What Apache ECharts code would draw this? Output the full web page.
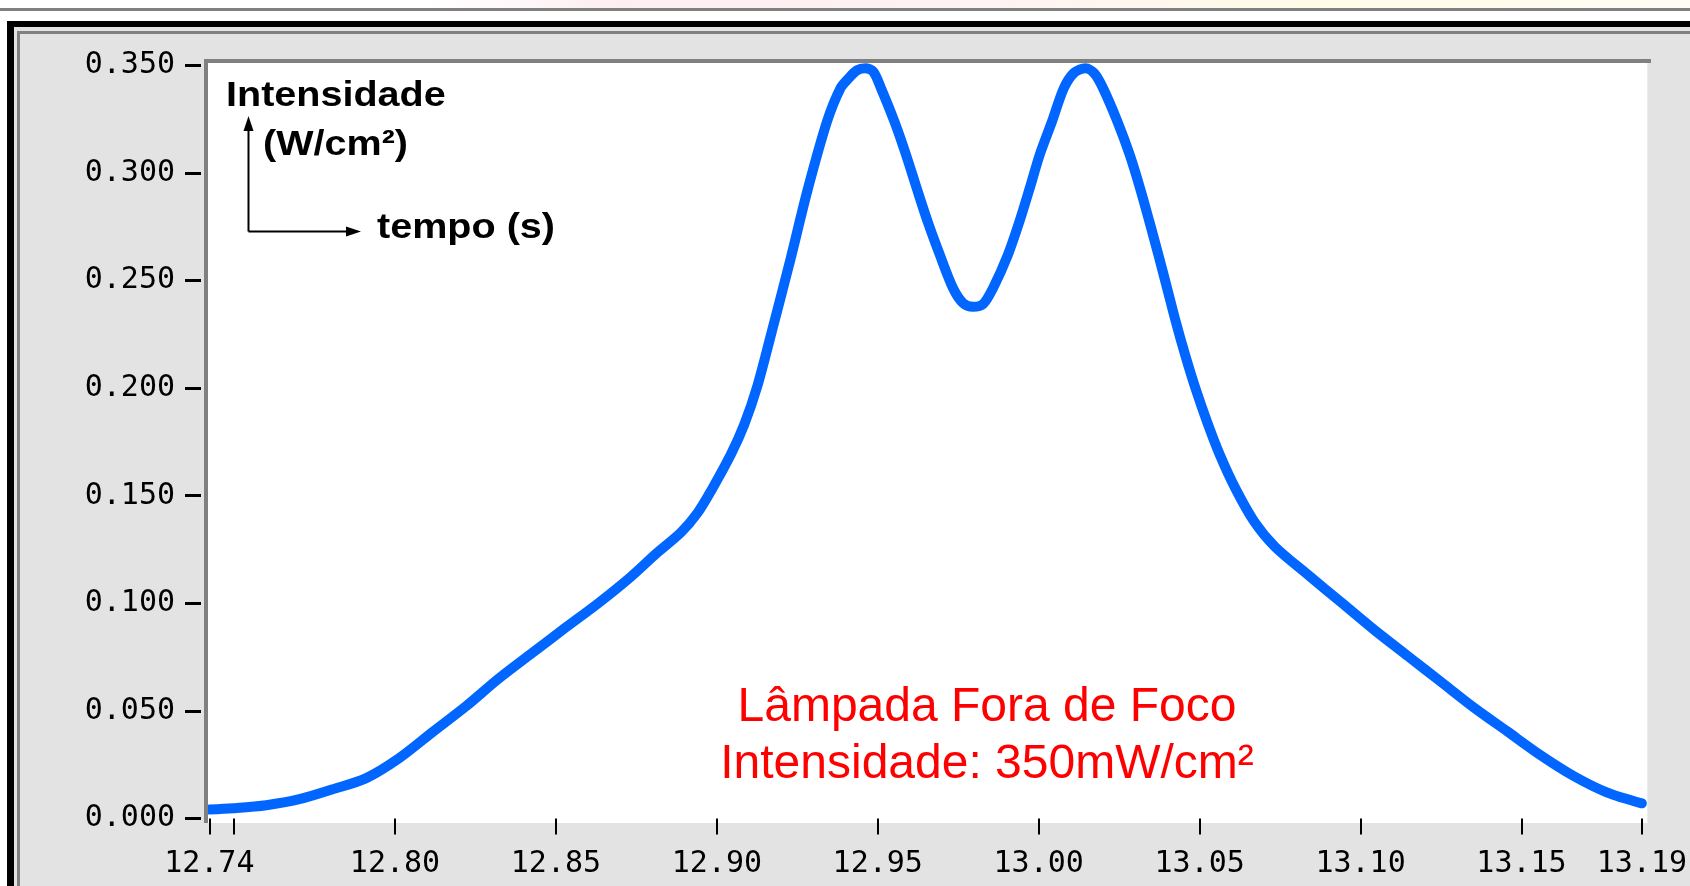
<!DOCTYPE html>
<html>
<head>
<meta charset="utf-8">
<script src="https://cdn.jsdelivr.net/npm/echarts@6/dist/echarts.min.js"></script>
<style>
html,body{margin:0;padding:0;background:#fff;}
#chart{width:1690px;height:886px;}
</style>
</head>
<body>
<div id="chart"></div>
<script>
// ---- data ----
const timeValues = [
  12.7423, 12.7497, 12.7600, 12.7703, 12.7806, 12.7909, 12.8012, 12.8115, 12.8219, 12.8322,
  12.8425, 12.8528, 12.8631, 12.8734, 12.8811, 12.8889, 12.8940, 12.8981, 12.9043, 12.9085,
  12.9126, 12.9172, 12.9229, 12.9281, 12.9342, 12.9384, 12.9410, 12.9435, 12.9461, 12.9486,
  12.9510, 12.9552, 12.9588, 12.9621, 12.9655, 12.9693, 12.9734, 12.9765, 12.9796, 12.9827,
  12.9858, 12.9904, 12.9940, 12.9972, 13.0003, 13.0041, 13.0078, 13.0110, 13.0145, 13.0173,
  13.0200, 13.0245, 13.0283, 13.0315, 13.0344, 13.0372, 13.0399, 13.0426, 13.0455, 13.0487,
  13.0523, 13.0563, 13.0611, 13.0670, 13.0734, 13.0837, 13.0941, 13.1044, 13.1147, 13.1250,
  13.1353, 13.1456, 13.1559, 13.1662, 13.1765, 13.1874
];
const intensityValues = [
  0.0042, 0.0048, 0.0062, 0.0090, 0.0136, 0.0187, 0.0280, 0.0400, 0.0520, 0.0650,
  0.0768, 0.0885, 0.1000, 0.1125, 0.1230, 0.1330, 0.1420, 0.1520, 0.1690, 0.1830,
  0.2010, 0.2270, 0.2600, 0.2915, 0.3237, 0.3393, 0.3440, 0.3476, 0.3486, 0.3470,
  0.3393, 0.3237, 0.3083, 0.2928, 0.2773, 0.2618, 0.2464, 0.2395, 0.2378, 0.2390,
  0.2464, 0.2618, 0.2773, 0.2928, 0.3083, 0.3237, 0.3393, 0.3465, 0.3486, 0.3462,
  0.3393, 0.3237, 0.3083, 0.2928, 0.2773, 0.2618, 0.2464, 0.2308, 0.2154, 0.1999,
  0.1844, 0.1689, 0.1534, 0.1379, 0.1263, 0.1132, 0.1003, 0.0875, 0.0755, 0.0635,
  0.0515, 0.0405, 0.0295, 0.0198, 0.0122, 0.0071
];
const xMin = 12.7419, xMax = 13.1891;
const yMin = -0.00204, yMax = 0.35102;
const xLabelValues = [12.7423, 12.80, 12.85, 12.90, 12.95, 13.00, 13.05, 13.10, 13.15, 13.1874];
const xTickValues  = [12.7423, 12.75, 12.80, 12.85, 12.90, 12.95, 13.00, 13.05, 13.10, 13.15, 13.1874];
const yTickValues  = [0, 0.05, 0.10, 0.15, 0.20, 0.25, 0.30, 0.35];
const annotationTitle = ['Intensidade', '(W/cm²)', 'tempo (s)'];
const noteLines = ['Lâmpada Fora de Foco', 'Intensidade: 350mW/cm²'];

const chart = echarts.init(document.getElementById('chart'), null, {renderer: 'canvas'});
const tickFont = '"DejaVu Sans Mono", monospace';

const option = {
  animation: false,
  backgroundColor: '#e3e3e3',
  grid: {left: 208, right: 36, top: 63, bottom: 63, show: true, backgroundColor: '#ffffff', borderWidth: 0},
  xAxis: {
    type: 'value', min: xMin, max: xMax, offset: 4,
    axisLine: {show: false}, splitLine: {show: false},
    axisTick: {show: true, length: 16, customValues: xTickValues, lineStyle: {color: '#000', width: 2}},
    axisLabel: {customValues: xLabelValues, formatter: v => v.toFixed(2), margin: 22,
      fontFamily: tickFont, fontSize: 30, color: '#000'}
  },
  yAxis: {
    type: 'value', min: yMin, max: yMax, offset: 7,
    axisLine: {show: false}, splitLine: {show: false},
    axisTick: {show: true, length: 16, customValues: yTickValues, lineStyle: {color: '#000', width: 3}},
    axisLabel: {customValues: yTickValues, formatter: v => v.toFixed(3), margin: 26,
      fontFamily: tickFont, fontSize: 30, color: '#000'}
  },
  series: [{
    type: 'line',
    data: timeValues.map((t, i) => [t, intensityValues[i]]),
    showSymbol: false, smooth: 0.3, clip: false,
    lineStyle: {color: '#0066ff', width: 10, cap: 'round', join: 'round'},
    z: 5
  }],
  graphic: [
    // page frame
    {type: 'rect', z: -100, shape: {x: 0, y: 0, width: 1690, height: 21}, style: {fill: '#ffffff'}},
    {type: 'rect', z: -99, shape: {x: 430, y: 0, width: 1260, height: 8},
      style: {fill: {type: 'linear', x: 0, y: 0, x2: 1, y2: 0, colorStops: [
        {offset: 0, color: '#ffffff'}, {offset: 0.15, color: '#fdeef1'}, {offset: 0.45, color: '#fff3f3'},
        {offset: 0.7, color: '#fffbe8'}, {offset: 1, color: '#fffdf4'}]}}},
    {type: 'rect', z: -100, shape: {x: 0, y: 0, width: 7, height: 886}, style: {fill: '#ffffff'}},
    {type: 'rect', z: -98, shape: {x: 0, y: 8, width: 1690, height: 3}, style: {fill: '#808080'}},
    {type: 'rect', z: -98, shape: {x: 7, y: 21, width: 1683, height: 6}, style: {fill: '#000000'}},
    {type: 'rect', z: -98, shape: {x: 7, y: 21, width: 7, height: 865}, style: {fill: '#000000'}},
    {type: 'rect', z: -98, shape: {x: 17, y: 31, width: 1673, height: 3}, style: {fill: '#808080'}},
    {type: 'rect', z: -98, shape: {x: 17, y: 31, width: 3, height: 855}, style: {fill: '#808080'}},
    // plot sunken border
    {type: 'rect', z: 20, shape: {x: 204, y: 59, width: 1447, height: 4}, style: {fill: '#808080'}},
    {type: 'rect', z: 20, shape: {x: 204, y: 59, width: 4, height: 764}, style: {fill: '#808080'}},
    // axes legend arrows
    {type: 'line', z: 30, shape: {x1: 248.5, y1: 231.5, x2: 248.5, y2: 128}, style: {stroke: '#000', lineWidth: 2}},
    {type: 'polygon', z: 30, shape: {points: [[248.5, 116], [243.5, 131], [253.5, 131]]}, style: {fill: '#000'}},
    {type: 'line', z: 30, shape: {x1: 248.5, y1: 231.5, x2: 350, y2: 231.5}, style: {stroke: '#000', lineWidth: 2}},
    {type: 'polygon', z: 30, shape: {points: [[361, 231.5], [346, 226.5], [346, 236.5]]}, style: {fill: '#000'}},
    {type: 'text', z: 30, x: 226, y: 96, scaleX: 1.13,
      style: {text: annotationTitle[0], x: 0, y: 0, fill: '#000', font: 'bold 35px "Liberation Sans", Arial, sans-serif', textAlign: 'left', textVerticalAlign: 'middle'}},
    {type: 'text', z: 30, x: 263, y: 145, scaleX: 1.13,
      style: {text: annotationTitle[1], x: 0, y: 0, fill: '#000', font: 'bold 35px "Liberation Sans", Arial, sans-serif', textAlign: 'left', textVerticalAlign: 'middle'}},
    {type: 'text', z: 30, x: 377, y: 228, scaleX: 1.13,
      style: {text: annotationTitle[2], x: 0, y: 0, fill: '#000', font: 'bold 35px "Liberation Sans", Arial, sans-serif', textAlign: 'left', textVerticalAlign: 'middle'}},
    {type: 'text', z: 30, x: 987, y: 708,
      style: {text: noteLines[0], x: 0, y: 0, fill: '#ff0000', font: '48px "Liberation Sans", Arial, sans-serif', textAlign: 'center', textVerticalAlign: 'middle'}},
    {type: 'text', z: 30, x: 987, y: 765,
      style: {text: noteLines[1], x: 0, y: 0, fill: '#ff0000', font: '48px "Liberation Sans", Arial, sans-serif', textAlign: 'center', textVerticalAlign: 'middle'}}
  ]
};
chart.setOption(option);
</script>
</body>
</html>
